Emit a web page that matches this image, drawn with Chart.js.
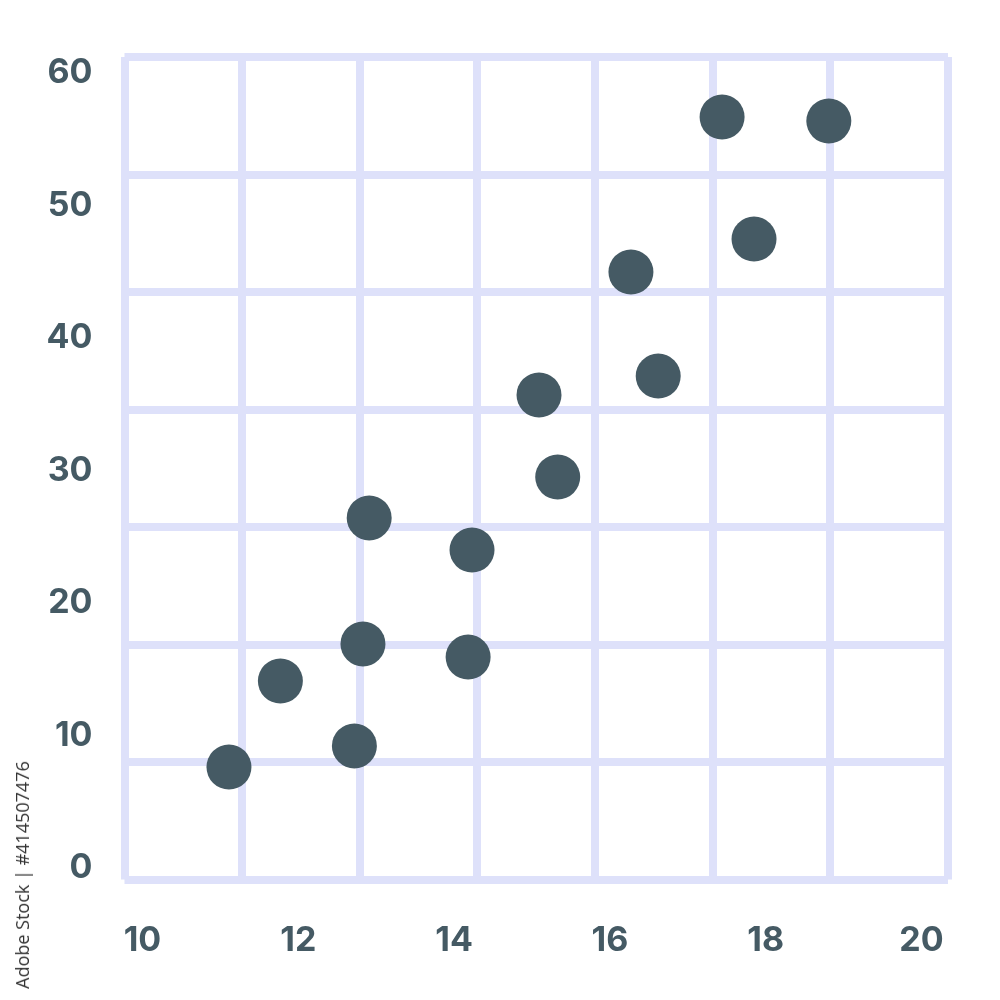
<!DOCTYPE html>
<html>
<head>
<meta charset="utf-8">
<script src="https://cdn.jsdelivr.net/npm/chart.js@4/dist/chart.umd.min.js"></script>
<style>
  body { margin: 0; background: #fff; }
  #wrap { position: relative; width: 1000px; height: 1000px; }
  #stamp {
    position: absolute; left: 22px; top: 875px;
    transform: translate(-50%, -50%) rotate(-90deg);
    white-space: nowrap; font: 18px "Open Sans", sans-serif; color: #333;
  }
</style>
</head>
<body>
<div id="wrap">
  <canvas id="chart" width="1000" height="1000"></canvas>
  <div id="stamp">Adobe Stock | #414507476</div>
</div>
<script>
const xValues = [11.11, 11.77, 12.72, 12.83, 12.91, 14.18, 14.23, 15.09, 15.33, 16.27, 16.62, 17.44, 17.85, 18.81];
const yValues = [7.62, 14.11, 9.21, 16.91, 26.42, 15.92, 24.0, 35.7, 29.51, 44.98, 37.13, 56.68, 47.47, 56.38];
const xTicks = [10, 12, 14, 16, 18, 20];
const yTicks = [0, 10, 20, 30, 40, 50, 60];
const gridCells = 7;

const ink = "#455a64";
const lavender = "#dee1fa";
const labelFont = { family: "Inter", size: 34, weight: "bold" };

new Chart(document.getElementById("chart"), {
  type: "scatter",
  data: {
    datasets: [
      {
        data: xValues.map((x, i) => ({ x: x, y: yValues[i] })),
        backgroundColor: ink,
        borderWidth: 0,
        pointRadius: 22.5,
        pointHoverRadius: 22.5,
      },
    ],
  },
  options: {
    responsive: false,
    animation: false,
    events: [],
    layout: { padding: { top: 57, right: 52, left: 0, bottom: 0 } },
    plugins: { legend: { display: false }, tooltip: { enabled: false } },
    scales: {
      x: {
        min: 9.769,
        max: 20.34,
        grid: { display: false },
        border: { display: false },
        afterBuildTicks: (s) => { s.ticks = xTicks.map((v) => ({ value: v })); },
        afterFit: (s) => { s.height = 120.5; },
        ticks: { color: ink, font: labelFont, padding: 33, maxRotation: 0 },
      },
      y: {
        min: -0.87,
        max: 61.21,
        grid: { display: false },
        border: { display: false },
        afterBuildTicks: (s) => { s.ticks = yTicks.map((v) => ({ value: v })); },
        afterFit: (s) => { s.width = 124.5; },
        ticks: { color: ink, font: labelFont, padding: 24 },
      },
      gx: {
        type: "linear",
        position: "top",
        min: 0,
        max: gridCells,
        ticks: { display: false, stepSize: 1 },
        grid: { color: lavender, lineWidth: 8, drawTicks: false },
        border: { display: false },
        afterFit: (s) => { s.height = 0; },
      },
      gy: {
        type: "linear",
        position: "right",
        min: 0,
        max: gridCells,
        ticks: { display: false, stepSize: 1 },
        grid: { color: lavender, lineWidth: 8, drawTicks: false },
        border: { display: false },
        afterFit: (s) => { s.width = 0; },
      },
    },
  },
});
</script>
</body>
</html>
